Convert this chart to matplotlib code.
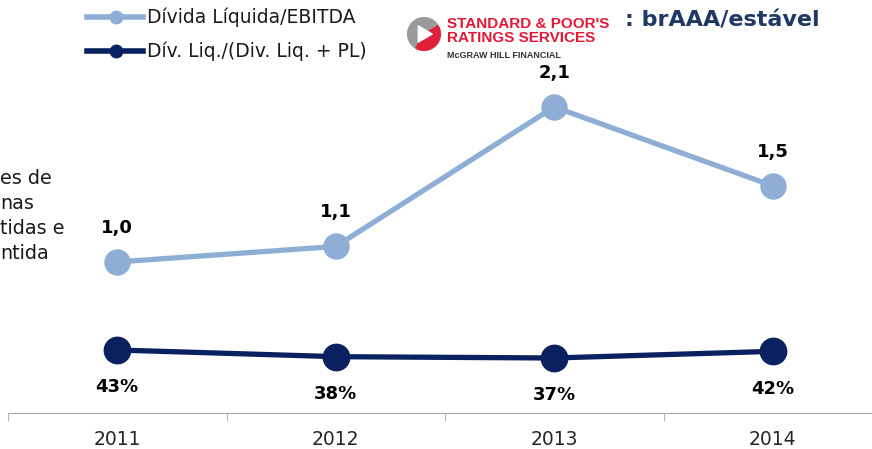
import matplotlib.pyplot as plt
from matplotlib.lines import Line2D
from matplotlib.patches import Wedge, Polygon

plt.rcParams['font.family'] = ['DejaVu Sans']

anos = ['2011', '2012', '2013', '2014']
div_ebitda = [1.0, 1.11, 2.1, 1.54]
div_pl = [43, 38, 37, 42]
rotulos_ebitda = ['1,0', '1,1', '2,1', '1,5']
rotulos_pl = ['43%', '38%', '37%', '42%']
texto_esq = ['es de', 'nas', 'tidas e', 'ntida']

azul_claro = '#8EAED6'
azul_escuro = '#0A2161'
cinza = '#A6A6A6'

fig = plt.figure(figsize=(8.72, 4.49), dpi=100)
W, H = 872, 449

ax = fig.add_axes([8 / W, 1 - 413 / H, 874 / W, 413 / H])
ax2 = ax.twinx()
x = list(range(len(anos)))

ax.plot(x, div_ebitda, color=azul_claro, lw=3.8, marker='o', ms=18, zorder=3)
ax2.plot(x, div_pl, color=azul_escuro, lw=3.8, marker='o', ms=19, zorder=3)

ax.set_xlim(-0.5, 3.5)
ax.set_ylim(-0.072, 2.859)
ax2.set_ylim(-4.25, 305.5)

for i in x:
    ax.annotate(rotulos_ebitda[i], (i, div_ebitda[i]), xytext=(0, 24.5), textcoords='offset points',
                ha='center', va='center', fontsize=13, fontweight='bold', color='black')
    ax2.annotate(rotulos_pl[i], (i, div_pl[i]), xytext=(0, -27), textcoords='offset points',
                 ha='center', va='center', fontsize=13, fontweight='bold', color='black')

for s in ['top', 'left', 'right']:
    ax.spines[s].set_visible(False)
    ax2.spines[s].set_visible(False)
ax2.spines['bottom'].set_visible(False)
ax.spines['bottom'].set_color(cinza)
ax.set_yticks([])
ax2.set_yticks([])
ax.set_xticks(x)
ax.set_xticklabels(anos, fontsize=13.5, color='#262626')
ax.set_xticks([-0.5, 0.5, 1.5, 2.5, 3.5], minor=True)
ax.tick_params(axis='x', which='major', length=0, pad=12)
ax.tick_params(axis='x', which='minor', length=6, color=cinza)

# legenda
leg_itens = [('Dívida Líquida/EBITDA', azul_claro, 17), ('Dív. Liq./(Div. Liq. + PL)', azul_escuro, 51)]
for nome, cor, yy in leg_itens:
    fig.add_artist(Line2D([87 / W, 143 / W], [1 - yy / H] * 2, color=cor, lw=4,
                          transform=fig.transFigure))
    fig.add_artist(Line2D([116 / W], [1 - yy / H], color=cor, marker='o', ms=9,
                          transform=fig.transFigure))
    fig.text(147 / W, 1 - yy / H, nome, fontsize=13.5, color='#1a1a1a', va='center', ha='left')

# texto cortado a esquerda
for k, t in enumerate(texto_esq):
    fig.text(0, 1 - (178 + 25.3 * k) / H, t, fontsize=13.8, color='#1a1a1a', va='center', ha='left')

# logo S&P
lax = fig.add_axes([406 / W, 1 - 52 / H, 36 / W, 36 / H])
lax.set_xlim(-1.1, 1.1)
lax.set_ylim(-1.1, 1.1)
lax.set_aspect('equal')
lax.axis('off')
lax.add_patch(Wedge((0, 0), 1, 30, 240, color='#9a9a9a'))
lax.add_patch(Wedge((0, 0), 1, 240, 390, color='#E0203A'))
lax.add_patch(Polygon([[-0.35, 0.5], [-0.35, -0.5], [0.5, 0]], closed=True, color='white'))

vermelho = '#E31837'
fig.text(447 / W, 1 - 24 / H, "STANDARD & POOR'S", fontsize=11, fontweight='bold', color=vermelho,
         family='Liberation Sans', va='center', ha='left')
fig.text(447 / W, 1 - 38 / H, 'RATINGS SERVICES', fontsize=11, fontweight='bold', color=vermelho,
         family='Liberation Sans', va='center', ha='left')
fig.text(447 / W, 1 - 56 / H, 'McGRAW HILL FINANCIAL', fontsize=6.5, fontweight='bold', color='#333333',
         family='Liberation Sans', va='center', ha='left')
fig.text(625 / W, 1 - 20 / H, ': brAAA/estável', fontsize=16, fontweight='bold', color='#1F3864',
         va='center', ha='left')

fig.savefig('out.png', dpi=100)
